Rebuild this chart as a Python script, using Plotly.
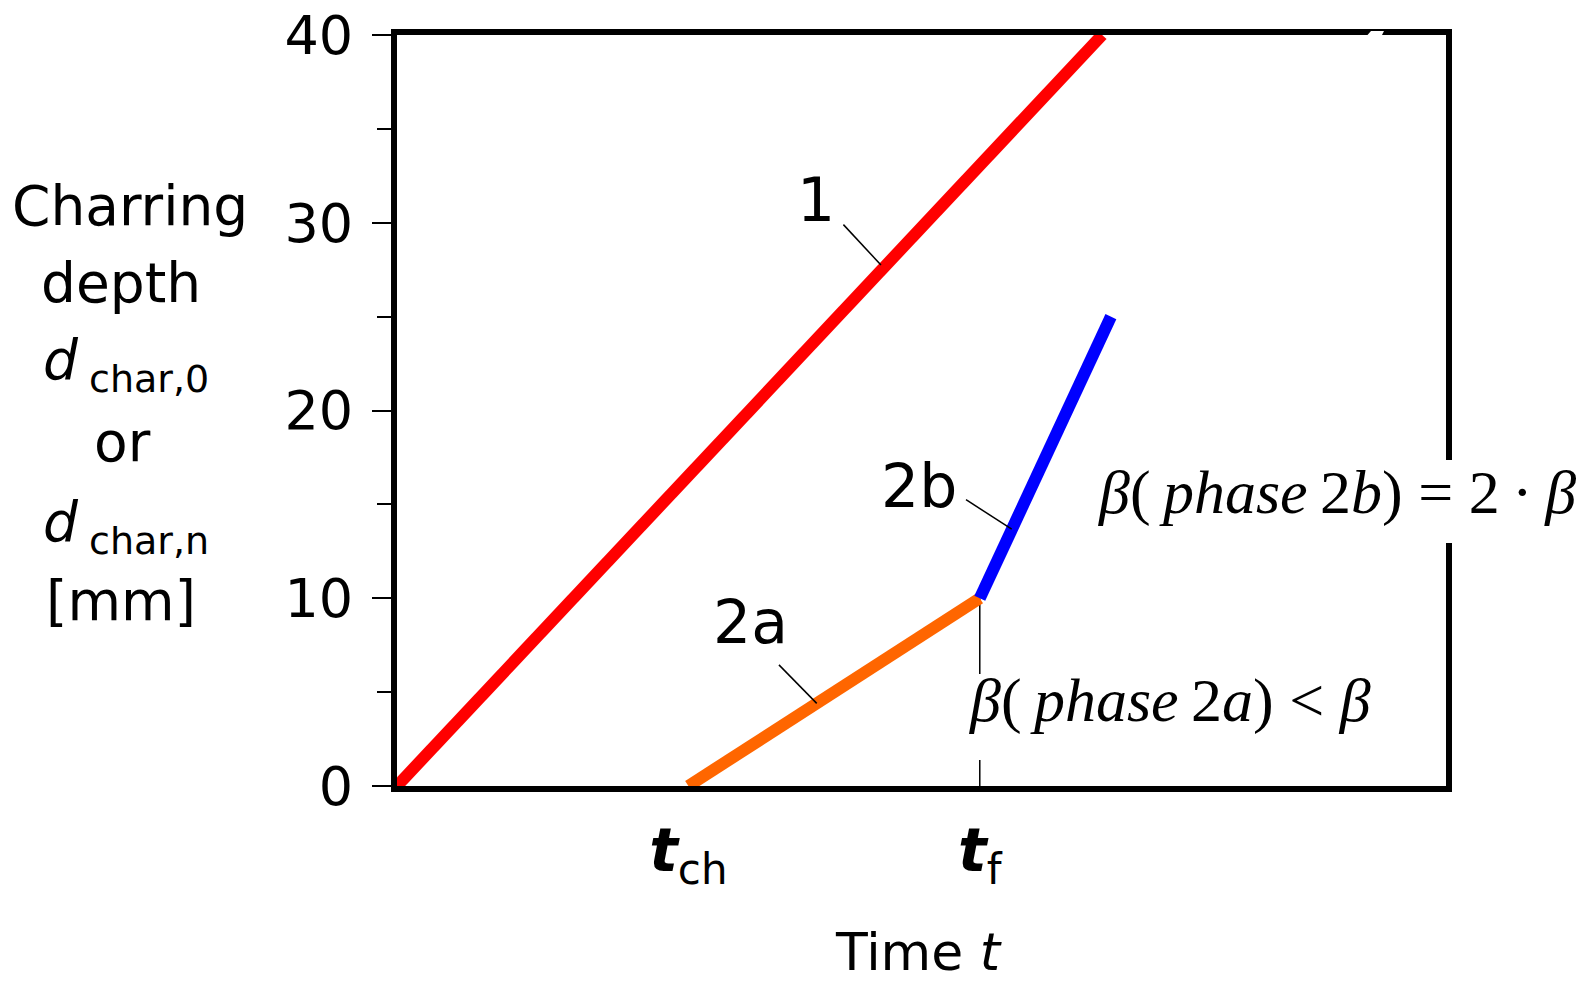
import plotly.graph_objects as go

# ---- data -------------------------------------------------------------
# phase 1: unprotected member, charring from t = 0 at rate beta
line1_t = [0, 60.5]
line1_d = [0, 40]
# phase 2a: protected member, reduced rate between t_ch and t_f
line2a_t = [25, 50]
line2a_d = [0, 10]
# phase 2b: after failure of the protection, doubled rate
line2b_t = [50, 61.25]
line2b_d = [10, 25]

y_ticks = [0, 10, 20, 30, 40]
y_minor = [5, 15, 25, 35]
x_tickvals = [25, 50]
x_ticktext = ["<b><i>t</i></b><sub>ch</sub>", "<b><i>t</i></b><sub>f</sub>"]

# ---- geometry of the page --------------------------------------------
W, H = 1585, 981
L, R, T, B = 397, 1446, 35, 786          # inner plot-area edges in px
SANS = "DejaVu Sans"
SERIF = "Liberation Serif"


def px(x):
    return (x - L) / (R - L)


def py(y):
    return (B - y) / (B - T)


fig = go.Figure()
fig.add_trace(go.Scatter(x=line1_t, y=line1_d, mode="lines",
                         line=dict(color="#FF0000", width=12),
                         cliponaxis=False, showlegend=False))
fig.add_trace(go.Scatter(x=line2a_t, y=line2a_d, mode="lines",
                         line=dict(color="#FF6600", width=12),
                         cliponaxis=False, showlegend=False))
fig.add_trace(go.Scatter(x=line2b_t, y=line2b_d, mode="lines",
                         line=dict(color="#0000FF", width=12),
                         cliponaxis=False, showlegend=False))

# leader lines for the curve labels and the marker line at t_f
thin = dict(color="black", width=1.5)
fig.add_shape(type="line", x0=38.3, y0=29.9, x1=41.52, y1=27.75, line=thin)
fig.add_shape(type="line", x0=48.82, y0=15.25, x1=52.74, y1=13.68, line=thin)
fig.add_shape(type="line", x0=32.77, y0=6.45, x1=36.01, y1=4.40, line=thin)
fig.add_shape(type="line", x0=x_tickvals[1], y0=0, x1=x_tickvals[1], y1=line2a_d[1],
              line=thin, layer="below")

# white breaks behind the two rate relations and in the top frame line
fig.add_shape(type="rect", xref="paper", yref="paper",
              x0=px(1100), x1=px(1470), y0=py(543), y1=py(460),
              fillcolor="white", line=dict(width=0), layer="above")
fig.add_shape(type="rect", xref="paper", yref="paper",
              x0=px(960), x1=px(1000), y0=py(760), y1=py(674),
              fillcolor="white", line=dict(width=0), layer="above")
fig.add_shape(type="path", xref="paper", yref="paper",
              path=(f"M {px(1364)},{py(39)} L {px(1371)},{py(31)} "
                    f"L {px(1384)},{py(31)} L {px(1380)},{py(39)} Z"),
              fillcolor="white", line=dict(width=0), layer="above")


def label(text, x, y, size, family=SANS, xanchor="center", yanchor="middle", **kw):
    fig.add_annotation(text=text, x=px(x), y=py(y), xref="paper", yref="paper",
                       xanchor=xanchor, yanchor=yanchor, showarrow=False,
                       font=dict(family=family, size=size, color="black"), **kw)


# y-axis title, stacked lines
label("Charring", 130, 206, 55)
label("depth", 121, 283, 55)
label("<i>d</i>", 41, 360, 55, xanchor="left")
label("char,0", 87, 379, 38, xanchor="left")
label("or", 122, 442, 55)
label("<i>d</i>", 41, 522, 55, xanchor="left")
label("char,n", 87, 541, 38, xanchor="left")
label("[mm]", 121, 601, 55)

# x-axis title
label("Time <i>t</i>", 918, 983, 52, yanchor="bottom", borderpad=0)

# curve labels
label("1", 816, 200, 60)
label("2b", 919, 486, 60)
label("2a", 750, 622, 60)

# rate relations
label("<i>β</i>(\u2009<i>phase</i>\u20092<i>b</i>) = 2\u2009·\u2009<i>β</i>",
      1337, 492, 62, family=SERIF)
label("<i>β</i>(\u2009<i>phase</i>\u20092<i>a</i>) &lt; <i>β</i>",
      1170, 700, 62, family=SERIF)

fig.update_layout(
    width=W, height=H,
    margin=dict(l=L, r=W - R, t=T, b=H - B, pad=0, autoexpand=False),
    paper_bgcolor="white", plot_bgcolor="white",
    showlegend=False,
    xaxis=dict(range=[0, 90], showgrid=False, zeroline=False, automargin=False,
               showline=True, linewidth=6, linecolor="black", mirror=True,
               tickmode="array", tickvals=x_tickvals, ticktext=x_ticktext,
               ticks="", ticklabelstandoff=7,
               tickfont=dict(family=SANS, size=60, color="black"),
               layer="below traces"),
    yaxis=dict(range=[0, 40], showgrid=False, zeroline=False, automargin=False,
               showline=True, linewidth=6, linecolor="black", mirror=True,
               tickmode="array", tickvals=y_ticks,
               ticktext=[str(v) for v in y_ticks],
               ticks="outside", ticklen=19, tickwidth=1.5, tickcolor="black",
               ticklabelstandoff=8,
               minor=dict(tickmode="array", tickvals=y_minor, ticks="outside",
                          ticklen=14, tickwidth=1.5, tickcolor="black",
                          showgrid=False),
               tickfont=dict(family=SANS, size=54, color="black"),
               layer="below traces"),
)

fig.write_html("out.html")
